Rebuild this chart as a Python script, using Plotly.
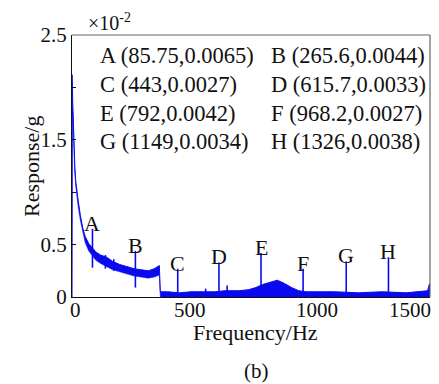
import plotly.graph_objects as go

# ---------------- data (response in units of 1e-2 g) ----------------
band_freq = [0, 1, 3, 6, 9, 12, 16, 20, 26, 35, 45, 55, 70, 85, 100, 120, 145, 170, 200,
             230, 260, 290, 320, 345, 360, 366, 370, 400, 450, 500, 550, 600, 640, 700,
             740, 770, 800, 830, 860, 890, 920, 950, 980, 1050, 1100, 1200, 1300, 1400,
             1470, 1490, 1497, 1500]
band_upper = [2.12, 2.12, 1.85, 1.55, 1.36, 1.24, 1.10, 1.00, 0.92, 0.78, 0.66, 0.58, 0.51,
              0.47, 0.43, 0.40, 0.38, 0.34, 0.31, 0.29, 0.27, 0.26, 0.25, 0.27, 0.29, 0.30,
              0.05, 0.05, 0.04, 0.05, 0.05, 0.05, 0.06, 0.06, 0.07, 0.09, 0.12, 0.14, 0.16,
              0.13, 0.09, 0.06, 0.05, 0.05, 0.05, 0.04, 0.05, 0.04, 0.05, 0.06, 0.12, 0.13]
band_lower = [0, 0, 1.77, 1.47, 1.29, 1.17, 1.05, 0.95, 0.86, 0.73, 0.61, 0.52, 0.44, 0.39,
              0.35, 0.32, 0.29, 0.26, 0.24, 0.22, 0.20, 0.19, 0.18, 0.19, 0.20, 0.21,
              0, 0, 0, 0, 0, 0, 0, 0, 0, 0, 0, 0, 0, 0, 0, 0, 0, 0, 0, 0, 0, 0, 0, 0, 0, 0]

peak_labels = ["A", "B", "C", "D", "E", "F", "G", "H"]
peak_freq = [85.75, 265.6, 443, 615.7, 792, 968.2, 1149, 1326]
peak_g = [0.0065, 0.0044, 0.0027, 0.0033, 0.0042, 0.0027, 0.0034, 0.0038]
peak_floor = [0.28, 0.09, 0, 0, 0, 0, 0, 0]

minor_freq = [140, 175, 560, 650]
minor_top = [0.40, 0.36, 0.08, 0.11]
minor_floor = [0.27, 0.25, 0, 0]

y_tick_vals = [0, 0.5, 1.5, 2.5]
y_tick_text = ["0", "0.5", "1.5", "2.5"]
y_minor_vals = [1.0, 2.0]
x_tick_vals = [0, 500, 1000, 1500]
x_tick_text = ["0", "500", "1000", "1500"]

# ---------------- layout constants ----------------
W, H = 439, 384
L, R, T, B = 72, 9, 35, 87
PW, PH = W - L - R, H - T - B
FONT = "Liberation Serif"
BLUE = "rgb(10,10,240)"


def px(x):
    return (x - L) / PW


def py(y):
    return (H - B - y) / PH


fig = go.Figure()
fig.add_trace(go.Scatter(x=band_freq, y=band_lower, mode="lines",
                         line=dict(color=BLUE, width=0.5), hoverinfo="skip",
                         showlegend=False))
fig.add_trace(go.Scatter(x=band_freq, y=band_upper, mode="lines", fill="tonexty",
                         fillcolor=BLUE, line=dict(color=BLUE, width=1),
                         showlegend=False))

sx, sy = [], []
for f, top, lo in zip(peak_freq, peak_g, peak_floor):
    sx += [f, f, None]
    sy += [lo, top * 100, None]
for f, top, lo in zip(minor_freq, minor_top, minor_floor):
    sx += [f, f, None]
    sy += [lo, top, None]
fig.add_trace(go.Scatter(x=sx, y=sy, mode="lines", line=dict(color=BLUE, width=1.6),
                         showlegend=False))

ann = []
# peak letters
for lab, f, g in zip(peak_labels, peak_freq, peak_g):
    ann.append(dict(x=f, y=g * 100, xref="x", yref="y", text=lab, showarrow=False,
                    yanchor="bottom", xanchor="center", yshift=-9,
                    font=dict(family=FONT, size=22, color="#111")))

# legend-like text block (two columns)
rows_y = [55, 84, 113, 141]
col_x = [98, 269]
for i, (lab, f, g) in enumerate(zip(peak_labels, peak_freq, peak_g)):
    txt = f"{lab} ({f:g},{g:.4f})"
    ann.append(dict(x=px(col_x[i % 2]), y=py(rows_y[i // 2]), xref="paper", yref="paper",
                    text=txt, showarrow=False, xanchor="left", yanchor="middle",
                    font=dict(family=FONT, size=22.5, color="#111")))

# x tick labels
x_label_px = [75, 190, 317, 410]
for v, t, xp in zip(x_tick_vals, x_tick_text, x_label_px):
    ann.append(dict(x=px(xp), y=py(310), xref="paper", yref="paper", text=t,
                    showarrow=False, xanchor="center", yanchor="middle",
                    font=dict(family=FONT, size=21, color="#111")))

# exponent
ann.append(dict(x=px(86), y=py(22), xref="paper", yref="paper",
                text="×10<sup>-2</sup>", showarrow=False, xanchor="left",
                yanchor="middle", font=dict(family=FONT, size=20, color="#111")))
# axis titles
ann.append(dict(x=px(31), y=py(167), xref="paper", yref="paper", text="Response/g",
                textangle=-90, showarrow=False, xanchor="center", yanchor="middle",
                font=dict(family=FONT, size=22, color="#111")))
ann.append(dict(x=px(255), y=py(332), xref="paper", yref="paper", text="Frequency/Hz",
                showarrow=False, xanchor="center", yanchor="middle",
                font=dict(family=FONT, size=22, color="#111")))
ann.append(dict(x=px(256), y=py(371), xref="paper", yref="paper", text="(b)",
                showarrow=False, xanchor="center", yanchor="middle",
                font=dict(family=FONT, size=21, color="#111")))

# grey top / right frame lines
shapes = [
    dict(type="line", xref="paper", yref="paper", x0=0, x1=1, y0=1, y1=1,
         line=dict(color="#666", width=1.2)),
    dict(type="line", xref="paper", yref="paper", x0=1, x1=1, y0=0, y1=1,
         line=dict(color="#666", width=1.2)),
]

fig.update_layout(
    width=W, height=H, margin=dict(l=L, r=R, t=T, b=B, pad=0),
    paper_bgcolor="white", plot_bgcolor="white", showlegend=False,
    annotations=ann, shapes=shapes, font=dict(family=FONT, color="#111"),
    xaxis=dict(range=[0, 1500], showgrid=False, zeroline=False, showline=True,
               linecolor="#111", linewidth=1.2, mirror=False, ticks="",
               showticklabels=False),
    yaxis=dict(range=[0, 2.5], showgrid=False, zeroline=False, showline=True,
               linecolor="#111", linewidth=1.2, mirror=False, ticks="inside", ticklen=4,
               tickcolor="#111", tickvals=y_tick_vals, ticktext=y_tick_text,
               tickfont=dict(family=FONT, size=21, color="#111"),
               minor=dict(tickvals=y_minor_vals, ticks="inside", ticklen=4,
                          tickcolor="#111", showgrid=False)),
)
fig.write_html("out.html")
